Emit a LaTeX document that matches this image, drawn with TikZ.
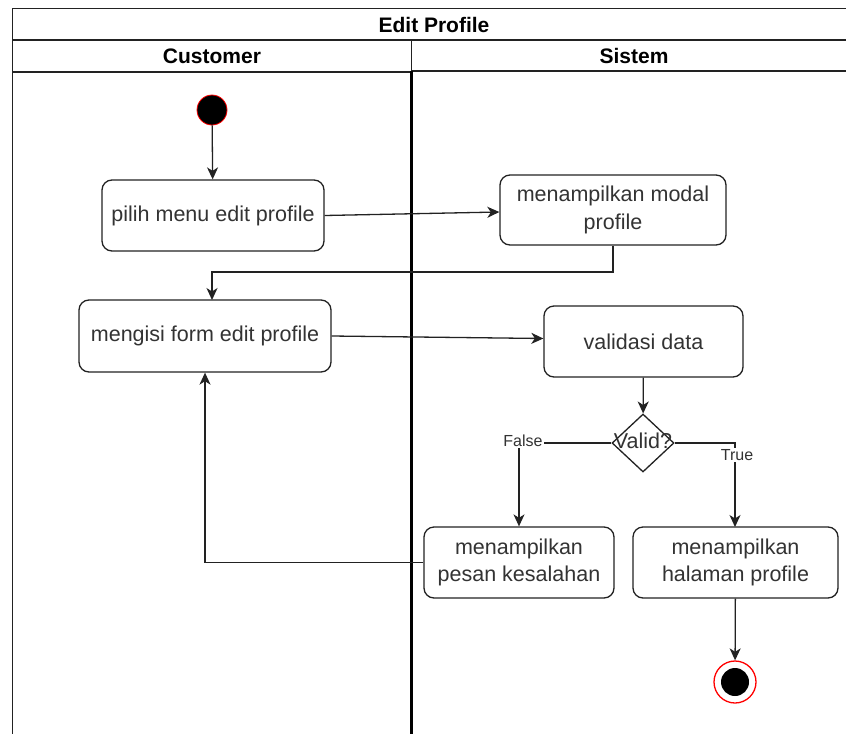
\documentclass[tikz,border=0pt]{standalone}
\usepackage{fontspec}
\setmainfont{Liberation Sans}
\usetikzlibrary{arrows.meta,shapes.geometric}
\definecolor{txt}{HTML}{333333}
\definecolor{edge}{HTML}{222222}
\begin{document}
\begin{tikzpicture}[x=1pt,y=-1pt,
  act/.style={draw=edge,line width=1.3pt,rounded corners=10pt,align=center,
    text=txt,font=\fontsize{21.5}{27.5}\selectfont,inner sep=0pt},
  flow/.style={draw=edge,line width=1.3pt,-{Stealth[length=12pt,width=11pt,inset=3.5pt]}},
  frameline/.style={draw=edge,line width=1.5pt},
  head/.style={font=\bfseries\fontsize{21}{24}\selectfont,text=black},
  lbl/.style={font=\fontsize{16}{18}\selectfont,text=txt,fill=white,inner sep=1pt}]
\useasboundingbox (0,0) rectangle (846,734);
\fill[white] (0,0) rectangle (846,734);

% swimlane frame
\draw[frameline] (846,8.5) -- (12.5,8.5) -- (12.5,734);
\draw[frameline] (12.5,40) -- (846,40);
\draw[frameline] (12.5,72) -- (411.5,72);
\draw[frameline] (411.5,71) -- (846,71);
\draw[edge,line width=1.5pt] (411.5,40) -- (411.5,71);
\draw[black,line width=2.8pt] (411.5,71) -- (411.5,734);
\node[head] (title) at (434,24.5) {Edit Profile};
\node[head] (laneA) at (212,56) {Customer};
\node[head] (laneB) at (634,55.5) {Sistem};

% start and end
\node[circle,fill=black,draw=red,line width=0.8pt,minimum size=30pt,inner sep=0pt] (start) at (212,110) {};
\node[circle,draw=red,line width=1.3pt,minimum size=42pt,inner sep=0pt] (final) at (735,682) {};
\node[circle,fill=black,minimum size=28pt,inner sep=0pt] (finalin) at (735,682) {};

% actions
\node[act,minimum width=222pt,minimum height=71pt] (pilih) at (213,215.5) {pilih menu edit profile};
\node[act,minimum width=226pt,minimum height=70pt] (modal) at (613,210) {menampilkan modal\\profile};
\node[act,minimum width=252pt,minimum height=72pt] (isi) at (205,336) {mengisi form edit profile};
\node[act,minimum width=199pt,minimum height=71pt] (valid) at (643.5,341.5) {validasi data};
\node[act,minimum width=190pt,minimum height=71pt] (pesan) at (519,562.5) {menampilkan\\pesan kesalahan};
\node[act,minimum width=205pt,minimum height=71pt] (hal) at (735.5,562.5) {menampilkan\\halaman profile};

% decision
\node[diamond,draw=edge,line width=1.3pt,minimum width=62pt,minimum height=58pt,inner sep=0pt] (dec) at (643,443) {};
\node[text=txt,font=\fontsize{21.5}{26}\selectfont] (declbl) at (643,441) {Valid?};

% flows
\draw[flow] (start) -- (pilih);
\draw[flow] (pilih.east) -- ([yshift=-2pt]modal.west);
\draw[flow] (modal.south) -- (613,272) -- (212,272) -- (212,300);
\draw[flow] (isi.east) -- ([yshift=3pt]valid.west);
\draw[flow] (valid) -- (dec);
\draw[flow] (dec.west) -- (519,443) -- (pesan.north);
\draw[flow] (dec.east) -- (735,443) -- (735,527);
\draw[flow] (pesan.west) -- (205,562.5) -- (isi.south);
\draw[flow] (hal) -- (final);

% guard labels
\node[lbl] (fl) at (523,441) {False};
\node[lbl] (tl) at (737,455) {True};
\end{tikzpicture}
\end{document}
